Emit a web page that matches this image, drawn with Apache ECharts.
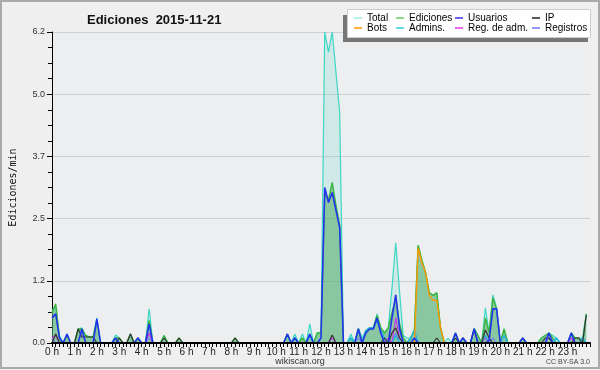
<!DOCTYPE html>
<html>
<head>
<meta charset="utf-8">
<script src="https://cdn.jsdelivr.net/npm/echarts@6/dist/echarts.min.js"></script>
<style>
  html, body { margin: 0; padding: 0; background: #efefef; }
  #chart { width: 600px; height: 370px; }
</style>
</head>
<body>
<div id="chart"></div>
<script>
// one value every 10 minutes, 144 per day (edits/min)
const hourLabels = ['0 h', '1 h', '2 h', '3 h', '4 h', '5 h', '6 h', '7 h', '8 h', '9 h', '10 h', '11 h',
    '12 h', '13 h', '14 h', '15 h', '16 h', '17 h', '18 h', '19 h', '20 h', '21 h', '22 h', '23 h'];

const total = [
    0.65,0.72,0.15,0,0.18,0,0,0.28,0.3,0.15,0.12,0.12, 0.5,0,0,0,0,0.16,0.1,0,0,0.18,0,0.1,
    0,0,0.68,0,0,0,0.15,0,0,0,0.1,0, 0,0,0,0,0,0,0,0,0,0,0,0,
    0,0.1,0,0,0,0,0,0,0,0,0,0, 0,0,0,0.18,0,0.18,0,0.18,0,0.38,0,0.2,
    0.2,6.2,5.8,6.2,5.4,4.6,0,0,0.18,0,0.3,0.1, 0.25,0.3,0.3,0.58,0.3,0.2,0.3,1.1,2.0,1.05,0.15,0.1,
    0.1,0.28,1.95,1.65,1.4,1.0,0.95,1.0,0.3,0,0.1,0, 0.2,0,0.1,0,0,0.3,0.15,0,0.7,0.2,0.96,0.7,
    0,0.28,0,0,0,0,0.1,0,0,0,0,0.1, 0.15,0.2,0.15,0.1,0,0,0,0.2,0.1,0.1,0.1,0.58
];
const ediciones = [
    0.6,0.78,0.1,0,0.15,0,0,0.28,0.28,0.15,0.12,0.12, 0.45,0,0,0,0,0.1,0.1,0,0,0.18,0,0.1,
    0,0,0.45,0,0,0,0.15,0,0,0,0.1,0, 0,0,0,0,0,0,0,0,0,0,0,0,
    0,0.1,0,0,0,0,0,0,0,0,0,0, 0,0,0,0.18,0,0.1,0,0.1,0,0.18,0,0.2,
    0.2,3.0,2.85,3.2,2.75,2.35,0,0,0.1,0,0.28,0, 0.25,0.3,0.3,0.55,0.3,0.2,0.3,0.6,0.9,0.4,0.1,0,
    0.1,0.25,1.95,1.65,1.4,1.0,0.95,1.0,0.3,0,0,0, 0.2,0,0.1,0,0,0.28,0.15,0,0.5,0.2,0.9,0.68,
    0,0.28,0,0,0,0,0.1,0,0,0,0,0.1, 0.15,0.2,0.1,0,0,0,0,0.2,0.1,0.1,0,0.58
];
const usuarios = [
    0.5,0.58,0.1,0,0.18,0,0,0,0.28,0,0,0, 0.48,0,0,0,0,0.1,0,0,0,0,0,0.1,
    0,0,0.38,0,0,0,0,0,0,0,0,0, 0,0,0,0,0,0,0,0,0,0,0,0,
    0,0,0,0,0,0,0,0,0,0,0,0, 0,0,0,0.18,0,0.1,0,0,0,0.18,0,0,
    0.1,3.1,2.8,3.0,2.65,2.3,0,0,0,0,0.28,0, 0.2,0.28,0.28,0.5,0.2,0,0,0.5,0.96,0.3,0,0,
    0,0.1,0,0,0,0,0,0,0,0,0,0, 0.2,0,0.1,0,0,0.28,0,0,0,0.05,0.68,0.68,
    0,0,0,0,0,0,0.1,0,0,0,0,0, 0,0.2,0,0,0,0,0,0.2,0,0,0,0
];
const ip = [
    0,0.18,0,0,0,0,0,0.28,0.12,0.12,0.12,0.12, 0,0,0,0,0,0,0.1,0,0,0.18,0,0,
    0,0,0,0,0,0,0.1,0,0,0,0.1,0, 0,0,0,0,0,0,0,0,0,0,0,0,
    0,0.1,0,0,0,0,0,0,0,0,0,0, 0,0,0,0,0,0,0,0,0,0,0,0,
    0,0,0,0.16,0,0,0,0,0,0,0,0, 0,0,0,0,0,0.1,0,0.2,0.3,0.1,0,0,
    0,0,0,0,0,0,0,0.1,0,0,0,0, 0.1,0,0,0,0,0.28,0,0,0.26,0.1,0,0,
    0,0,0,0,0,0,0,0,0,0,0,0, 0.1,0.1,0,0,0,0,0,0,0.1,0.1,0,0.55
];
const bots = [
    0,0,0,0,0,0,0,0,0,0,0,0, 0,0,0,0,0,0,0,0,0,0,0,0,
    0,0,0,0,0,0,0,0,0,0,0,0, 0,0,0,0,0,0,0,0,0,0,0,0,
    0,0,0,0,0,0,0,0,0,0,0,0, 0,0,0,0,0,0,0,0,0,0,0,0,
    0,0,0,0,0,0,0,0,0,0,0,0, 0,0,0,0,0,0,0,0,0,0,0,0,
    0,0,1.9,1.6,1.4,0.95,0.85,0.85,0.3,0,0,0, 0,0,0,0,0,0,0,0,0,0,0,0,
    0,0,0,0,0,0,0,0,0,0,0,0, 0,0,0,0,0,0,0,0,0,0,0,0
];
const admins = [
    0,0,0,0,0,0,0,0,0,0,0,0, 0,0,0,0,0,0,0,0,0,0,0,0,
    0,0,0,0,0,0,0,0,0,0,0,0, 0,0,0,0,0,0,0,0,0,0,0,0,
    0,0,0,0,0,0,0,0,0,0,0,0, 0,0,0,0,0,0.1,0,0,0,0.15,0,0,
    0,0,0,0,0,0,0,0,0.1,0,0,0, 0.25,0.3,0.3,0.45,0.25,0.1,0,0,0.15,0,0,0,
    0.1,0.25,0,0,0,0,0,0,0,0,0,0, 0,0,0,0,0,0,0,0,0.15,0,0,0,
    0,0.15,0,0,0,0,0,0,0,0,0,0, 0,0,0,0.1,0,0,0,0,0,0,0.1,0
];
const regAdm = [
    0.1,0.15,0,0,0,0,0,0,0,0,0,0, 0,0,0,0,0,0,0,0,0,0,0,0,
    0,0,0.2,0,0,0,0,0,0,0,0,0, 0,0,0,0,0,0,0,0,0,0,0,0,
    0,0,0,0,0,0,0,0,0,0,0,0, 0,0,0,0,0,0,0,0,0,0,0,0,
    0,0,0,0.1,0,0,0,0,0,0,0,0, 0,0,0,0,0,0,0.1,0,0.5,0.1,0,0,
    0,0,0,0,0,0,0,0,0,0,0,0, 0,0,0,0,0,0,0,0,0.1,0,0,0,
    0,0,0,0,0,0,0,0,0,0,0,0, 0,0,0,0,0,0,0,0.1,0,0,0,0
];
const registros = [
    0.1,0,0,0,0,0,0,0,0,0,0,0, 0,0,0,0,0,0,0,0,0,0,0,0,
    0,0,0.1,0,0,0,0,0,0,0,0,0, 0,0,0,0,0,0,0,0,0,0,0,0,
    0,0,0,0,0,0,0,0,0,0,0,0, 0,0,0,0,0,0,0,0,0,0,0,0,
    0,0,0,0,0,0,0,0,0,0,0.1,0, 0,0,0,0,0,0,0,0,0.2,0,0,0,
    0,0,0,0,0,0,0,0,0,0,0,0, 0,0,0,0,0,0,0,0,0,0,0.1,0,
    0,0,0,0,0,0,0,0,0,0,0,0, 0,0.1,0,0,0,0,0,0,0,0,0,0
];

const FONT = '"Liberation Sans", Arial, sans-serif';

function lineSeries(name, values, color, width, area) {
    let s = {
        name: name,
        type: 'line',
        data: values.map((v, i) => [i, v]),
        symbol: 'none',
        color: color,
        lineStyle: {color: color, width: width},
        animation: false
    };
    if (area) s.areaStyle = {color: area, opacity: 1};
    return s;
}

// draw order: fills first, then the thin lines
let series = [
    lineSeries('Total', total, '#3ed6c6', 1.2, 'rgba(120,225,200,0.25)'),
    lineSeries('Ediciones', ediciones, '#3cb43c', 1.4, 'rgba(60,160,80,0.47)'),
    lineSeries('Registros', registros, '#7b7bff', 1.2),
    lineSeries('Reg. de adm.', regAdm, '#cc33ee', 1.2),
    lineSeries('Admins.', admins, '#22b4e0', 1.4),
    lineSeries('IP', ip, '#333333', 1.2),
    lineSeries('Bots', bots, '#ff9900', 1.4),
    lineSeries('Usuarios', usuarios, '#2233ee', 1.6)
];

const legendCols = [
    [{name: 'Total', c: '#9feee2'}, {name: 'Bots', c: '#ff9900'}],
    [{name: 'Ediciones', c: '#66cc66'}, {name: 'Admins.', c: '#33ccdd'}],
    [{name: 'Usuarios', c: '#3333ee'}, {name: 'Reg. de adm.', c: '#ee33ee'}],
    [{name: 'IP', c: '#222222'}, {name: 'Registros', c: '#7777ff'}]
];
const legendLeft = [354, 396, 455, 532];

let legends = legendCols.map((col, k) => ({
    orient: 'vertical',
    left: legendLeft[k],
    top: 13,
    padding: 0,
    itemGap: 0,
    itemWidth: 8,
    itemHeight: 1.5,
    icon: 'rect',
    selectedMode: false,
    z: 10,
    textStyle: {fontFamily: FONT, fontSize: 10, color: '#000', lineHeight: 10},
    data: col.map(it => ({name: it.name, itemStyle: {color: it.c}}))
}));

let option = {
    backgroundColor: '#efefef',
    animation: false,
    title: {
        text: 'Ediciones  2015-11-21',
        left: 82,
        top: 9,
        textStyle: {fontFamily: FONT, fontSize: 13, fontWeight: 'bold', color: '#111'}
    },
    legend: legends,
    grid: {
        left: 46, right: 10, top: 32, bottom: 27,
        show: true, backgroundColor: '#eceef0', borderWidth: 0
    },
    xAxis: {
        type: 'value',
        min: 0, max: 144, interval: 6,
        z: 5,
        axisLine: {show: true, lineStyle: {color: '#000', width: 2}},
        axisTick: {show: true, length: 4, lineStyle: {color: '#000'}},
        minorTick: {show: true, splitNumber: 6, length: 4, lineStyle: {color: '#000'}},
        splitLine: {show: false},
        axisLabel: {
            fontFamily: FONT, fontSize: 10, color: '#222', margin: 4,
            showMaxLabel: false,
            formatter: v => hourLabels[v / 6] || ''
        }
    },
    yAxis: {
        type: 'value',
        min: 0, max: 6.2, interval: 1.24,
        name: 'Ediciones/min',
        nameLocation: 'middle',
        nameRotate: 90,
        nameGap: 34,
        nameTextStyle: {fontFamily: '"DejaVu Sans Mono", monospace', fontSize: 10, color: '#111'},
        axisLine: {show: true, lineStyle: {color: '#000', width: 1}},
        axisTick: {show: true, length: 5, lineStyle: {color: '#000'}},
        minorTick: {show: true, splitNumber: 4, length: 4, lineStyle: {color: '#000'}},
        splitLine: {show: true, lineStyle: {color: '#cfd0d2', width: 1}},
        axisLabel: {
            fontFamily: FONT, fontSize: 9, color: '#333', margin: 7,
            formatter: v => v.toFixed(1)
        }
    },
    graphic: [
        {type: 'rect', z: 1, shape: {x: 1, y: 1, width: 598, height: 367}, style: {fill: 'none', stroke: '#aaaaaa', lineWidth: 2}},
        {type: 'rect', z: 8, shape: {x: 343, y: 15, width: 245, height: 27}, style: {fill: '#777777'}},
        {type: 'rect', z: 9, shape: {x: 347.5, y: 9.5, width: 243, height: 28}, style: {fill: '#ffffff', stroke: '#cccccc', lineWidth: 1}},
        {type: 'text', z: 9, left: 'center', top: 357, style: {text: 'wikiscan.org', font: '9px ' + FONT, fill: '#333'}},
        {type: 'text', z: 9, right: 10, top: 359, style: {text: 'CC BY-SA 3.0', font: '7px ' + FONT, fill: '#444'}}
    ],
    series: series
};

let chart = echarts.init(document.getElementById('chart'), null, {renderer: 'canvas'});
chart.setOption(option);
</script>
</body>
</html>
